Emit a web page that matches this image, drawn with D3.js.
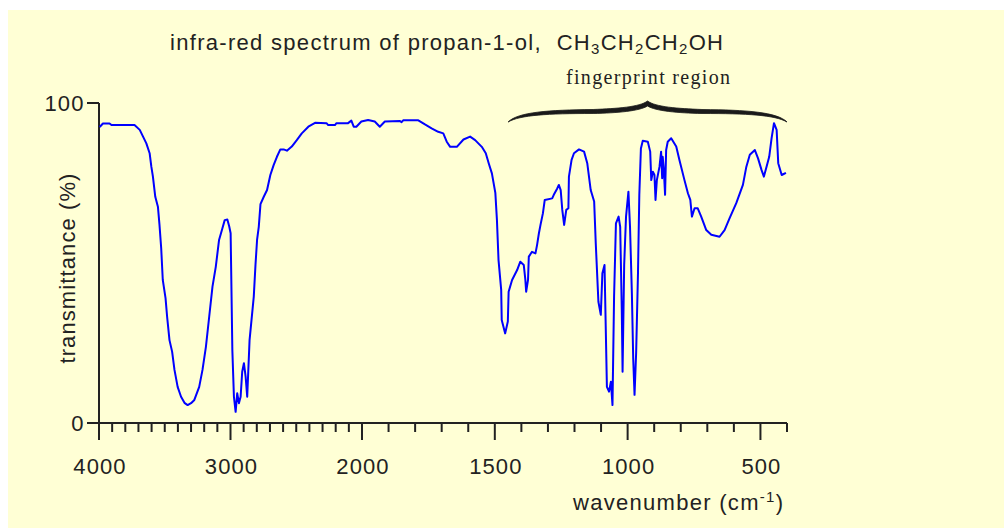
<!DOCTYPE html>
<html>
<head>
<meta charset="utf-8">
<script src="https://cdn.jsdelivr.net/npm/d3@7"></script>
<style>
  html, body { margin: 0; padding: 0; background: #ffffff; }
  svg { display: block; }
  .sans { font-family: "Liberation Sans", Arial, sans-serif; fill: #222; }
  .serif { font-family: "Liberation Serif", "Times New Roman", serif; fill: #222; }
</style>
</head>
<body>
<svg id="chart" width="1006" height="530"></svg>
<script>
// Infra-red spectrum of propan-1-ol: wavenumber (cm-1) and transmittance (%)
const wavenumber = [
  3995, 3970, 3920, 3905, 3730, 3690, 3665, 3640, 3615, 3602, 3590, 3572, 3552, 3540,
  3527, 3515, 3494, 3482, 3464, 3444, 3426, 3402, 3376, 3350, 3326, 3300, 3275, 3238,
  3213, 3187, 3162, 3137, 3112, 3087, 3062, 3044, 3024, 3010, 2999, 2986, 2974, 2961,
  2949, 2936, 2923, 2911, 2898, 2885, 2873, 2866, 2855, 2823, 2810, 2798, 2785, 2772,
  2747, 2722, 2697, 2672, 2647, 2621, 2596, 2571, 2534, 2496, 2458, 2408, 2357, 2270,
  2257, 2206, 2194, 2106, 2081, 2063, 2043, 2005, 1977, 1952, 1933, 1914, 1857, 1851,
  1845, 1788, 1763, 1738, 1713, 1694, 1681, 1668, 1643, 1618, 1593, 1574, 1549, 1534,
  1523, 1511, 1498, 1492, 1486, 1476, 1474, 1461, 1451, 1448, 1435, 1416, 1404, 1391,
  1385, 1382, 1375, 1372, 1360, 1347, 1341, 1334, 1328, 1319, 1312, 1284, 1278, 1265,
  1259, 1252, 1246, 1239, 1231, 1223, 1221, 1211, 1202, 1183, 1164, 1152, 1139, 1126,
  1120, 1110, 1101, 1095, 1087, 1085, 1078, 1070, 1063, 1057, 1051, 1044, 1034, 1028,
  1022, 1019, 1013, 1006, 997, 991, 984, 979, 974, 968, 961, 956, 950, 943,
  924, 915, 911, 905, 899, 895, 890, 880, 874, 870, 868, 864, 859, 855,
  849, 836, 817, 805, 786, 773, 764, 758, 748, 736, 723, 704, 685, 654,
  635, 616, 591, 566, 553, 540, 521, 509, 496, 487, 477, 467, 458, 449,
  439, 433, 420, 404
];
const transmittance = [
  92.5, 93.6, 93.6, 93.1, 93.1, 91.6, 89.5, 87.4, 84.3, 80.1, 77.0, 70.7, 67.6, 61.9,
  54.6, 44.7, 39.0, 33.2, 25.9, 22.3, 16.6, 11.3, 8.2, 6.3, 5.6, 6.2, 7.2, 11.3,
  16.6, 23.8, 33.2, 42.6, 48.8, 57.2, 60.8, 63.4, 63.6, 61.5, 59.3, 22.8, 8.2, 3.5,
  9.3, 6.2, 8.2, 16.0, 18.7, 14.5, 8.2, 15.0, 25.9, 39.5, 49.4, 57.2, 61.3, 68.4,
  70.7, 72.8, 77.5, 80.6, 83.2, 85.5, 85.5, 85.1, 86.4, 88.4, 90.5, 92.6, 93.8, 93.7,
  93.1, 93.1, 93.7, 93.7, 94.5, 92.6, 92.6, 94.2, 94.7, 94.2, 92.6, 94.2, 94.4, 94.0,
  94.6, 94.6, 93.3, 92.1, 91.0, 90.5, 87.9, 86.3, 86.3, 88.6, 89.5, 88.4, 86.3, 84.3,
  81.2, 78.0, 71.9, 63.4, 50.9, 41.6, 32.2, 28.0, 31.7, 41.0, 44.7, 47.8, 50.4, 49.4,
  44.7, 41.0, 44.7, 52.0, 53.5, 53.0, 55.6, 59.3, 61.9, 65.5, 69.7, 70.2, 71.3, 73.3,
  74.4, 72.8, 66.6, 61.9, 66.6, 67.1, 77.0, 82.2, 84.3, 85.5, 84.8, 81.2, 72.8, 69.2,
  56.2, 37.9, 33.8, 46.8, 49.4, 41.0, 11.3, 9.8, 12.9, 5.6, 39.5, 62.4, 64.5, 61.3,
  35.3, 16.0, 49.4, 64.5, 72.3, 61.3, 40.5, 20.2, 8.8, 21.8, 46.8, 71.3, 85.8, 88.2,
  87.9, 84.8, 75.9, 78.5, 77.5, 69.7, 75.9, 80.1, 84.8, 76.5, 83.2, 79.6, 71.3, 85.3,
  87.9, 89.0, 86.4, 82.2, 75.9, 71.8, 69.7, 64.5, 67.1, 67.1, 64.5, 60.3, 58.8, 58.2,
  60.3, 64.0, 68.7, 74.4, 80.1, 83.8, 85.3, 82.7, 79.1, 77.0, 80.1, 83.2, 89.0, 93.7,
  91.6, 81.2, 77.5, 78.2
];

// Axis labels
const xTickLabels = [4000, 3000, 2000, 1500, 1000, 500];
const yTickLabels = [0, 100];
// The x axis changes scale at 2000 cm-1 (twice as wide below it)
const xBreaks = [4000, 2000, 400];

const svg = d3.select("#chart");

// page background
svg.append("rect")
  .attr("x", 8).attr("y", 10).attr("width", 996).attr("height", 518)
  .attr("fill", "#ffffd5");

const x = d3.scaleLinear().domain(xBreaks).range([99, 362, 787]);
const y = d3.scaleLinear().domain([0, 100]).range([423, 103]);

const axisColor = "#222";

// spread a text's letters so that it spans the given width
function spreadTo(sel, width) {
  const node = sel.node();
  const n = node.textContent.length;
  const w = node.getComputedTextLength();
  sel.attr("letter-spacing", (width - w) / Math.max(1, n - 1));
}

// tick marks along the bottom: every 100 cm-1, longer at labelled values
const minorTicks = d3.range(4000, 399, -100);
const g = svg.append("g");
g.selectAll("line.tick")
  .data(minorTicks)
  .join("line")
  .attr("x1", d => x(d)).attr("x2", d => x(d))
  .attr("y1", y(0))
  .attr("y2", d => xTickLabels.includes(d) ? y(0) + 17 : y(0) + 9)
  .attr("stroke", axisColor).attr("stroke-width", 2);

// axis lines
g.append("line")
  .attr("x1", 87).attr("x2", x(400)).attr("y1", y(0)).attr("y2", y(0))
  .attr("stroke", axisColor).attr("stroke-width", 2);
g.append("line")
  .attr("x1", x(4000)).attr("x2", x(4000)).attr("y1", y(100)).attr("y2", y(0) + 17)
  .attr("stroke", axisColor).attr("stroke-width", 2);
g.selectAll("line.ytick")
  .data(yTickLabels)
  .join("line")
  .attr("x1", 87).attr("x2", x(4000))
  .attr("y1", d => y(d)).attr("y2", d => y(d))
  .attr("stroke", axisColor).attr("stroke-width", 2);

// tick labels
g.selectAll("text.xl")
  .data(xTickLabels)
  .join("text")
  .attr("class", "sans")
  .attr("x", d => x(d) + 1).attr("y", 474)
  .attr("text-anchor", "middle")
  .attr("font-size", 22)
  .attr("letter-spacing", 1.1)
  .text(d => d);
g.selectAll("text.yl")
  .data(yTickLabels)
  .join("text")
  .attr("class", "sans")
  .attr("x", 84.5).attr("y", d => y(d) + 8)
  .attr("text-anchor", "end")
  .attr("font-size", 22)
  .attr("letter-spacing", 1.1)
  .text(d => d);

// axis titles
const yt = svg.append("text")
  .attr("class", "sans")
  .attr("transform", "translate(75,268) rotate(-90)")
  .attr("text-anchor", "middle")
  .attr("font-size", 22)
  .text("transmittance (%)");
spreadTo(yt, 190);

const xt = svg.append("text")
  .attr("class", "sans")
  .attr("x", 573).attr("y", 510)
  .attr("font-size", 22);
xt.append("tspan").text("wavenumber (cm");
xt.append("tspan").attr("font-size", 15).attr("dy", -8).text("-1");
xt.append("tspan").attr("dy", 8).text(")");
spreadTo(xt, 210);

// title with subscripted formula
const title = svg.append("text")
  .attr("class", "sans")
  .attr("x", 170).attr("y", 50)
  .attr("font-size", 22);
title.append("tspan").text("infra-red spectrum of propan-1-ol,\u00a0\u00a0CH");
title.append("tspan").attr("font-size", 15).attr("dy", 4).text("3");
title.append("tspan").attr("dy", -4).text("CH");
title.append("tspan").attr("font-size", 15).attr("dy", 4).text("2");
title.append("tspan").attr("dy", -4).text("CH");
title.append("tspan").attr("font-size", 15).attr("dy", 4).text("2");
title.append("tspan").attr("dy", -4).text("OH");
spreadTo(title, 553);

// fingerprint region label and brace
const fp = svg.append("text")
  .attr("class", "serif")
  .attr("x", 566).attr("y", 84)
  .attr("font-size", 20)
  .text("fingerprint region");
spreadTo(fp, 164);

const braceL = x(1450), braceR = x(400), braceMid = (braceL + braceR) / 2;
function bracePath() {
  const L = braceL, R = braceR, M = braceMid;
  const p = d3.path();
  // upper edge, left to right
  p.moveTo(L, 122);
  p.bezierCurveTo(L + 10, 112, L + 40, 110, L + 85, 109.5);
  p.bezierCurveTo(M - 30, 108.5, M - 8, 107, M, 101);
  p.bezierCurveTo(M + 8, 107, M + 30, 108.5, R - 85, 109.5);
  p.bezierCurveTo(R - 40, 110, R - 10, 112, R, 122);
  // lower edge, right to left
  p.bezierCurveTo(R - 12, 115, R - 40, 113.5, R - 85, 113.5);
  p.bezierCurveTo(M + 30, 113, M + 8, 111, M, 106);
  p.bezierCurveTo(M - 8, 111, M - 30, 113, L + 85, 113.5);
  p.bezierCurveTo(L + 40, 113.5, L + 12, 115, L, 122);
  p.closePath();
  return p.toString();
}
svg.append("path")
  .attr("d", bracePath())
  .attr("fill", "#1a1a1a")
  .attr("stroke", "#1a1a1a")
  .attr("stroke-width", 0.8);

// spectrum trace
const pts = wavenumber.map((w, i) => [w, transmittance[i]]);
svg.append("path")
  .datum(pts)
  .attr("fill", "none")
  .attr("stroke", "#0000ff")
  .attr("stroke-width", 2)
  .attr("stroke-linejoin", "round")
  .attr("d", d3.line().x(d => x(d[0])).y(d => y(d[1])));
</script>
</body>
</html>
